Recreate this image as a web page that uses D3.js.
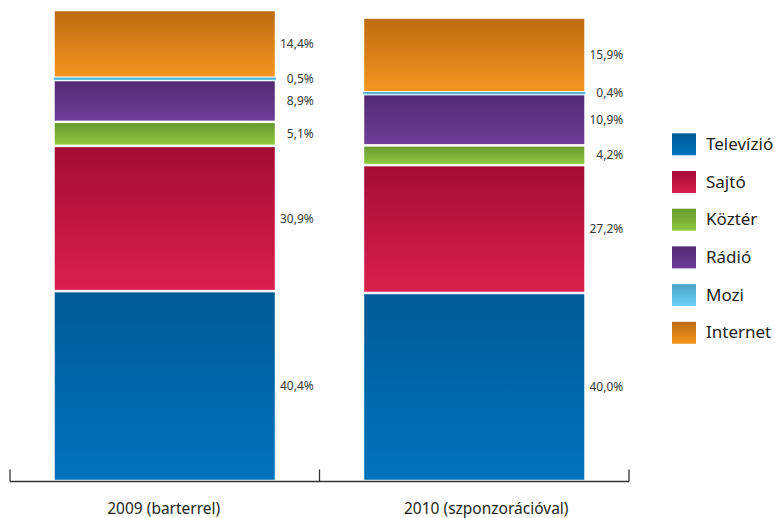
<!DOCTYPE html>
<html><head><meta charset="utf-8">
<script src="https://cdn.jsdelivr.net/npm/d3@7"></script>
<style>
html,body{margin:0;padding:0;background:#fff;}
svg{display:block;font-family:"Noto Sans","Open Sans",sans-serif;}
</style></head>
<body><svg id="chart" width="775" height="518"></svg>
<script>
const categories = ["2009 (barterrel)", "2010 (szponzorációval)"];
const seriesNames = ["Televízió", "Sajtó", "Köztér", "Rádió", "Mozi", "Internet"];
const televizio = [40.4, 40.0];
const sajto = [30.9, 27.2];
const kozter = [5.1, 4.2];
const radio = [8.9, 10.9];
const mozi = [0.5, 0.4];
const internet = [14.4, 15.9];
const colorsTop = ["#005a96", "#a30c35", "#669a2d", "#522a73", "#4aa2c7", "#bd6c12"];
const colorsBottom = ["#0073bd", "#da1f4d", "#8ec73f", "#6c3e98", "#6dd0f7", "#f5951f"];

const seriesValues = [televizio, sajto, kozter, radio, mozi, internet];
const rows = categories.map((c, i) => {
  const r = {category: c};
  seriesNames.forEach((s, j) => r[s] = seriesValues[j][i]);
  return r;
});
const stack = d3.stack().keys(seriesNames)(rows);
const totals = rows.map(r => d3.sum(seriesNames, s => r[s]));

const svg = d3.select("#chart");
const defs = svg.append("defs");
seriesNames.forEach((s, j) => {
  const g = defs.append("linearGradient").attr("id", "grad" + j)
    .attr("x1", 0).attr("y1", 0).attr("x2", 0).attr("y2", 1);
  g.append("stop").attr("offset", "0%").attr("stop-color", colorsTop[j]);
  g.append("stop").attr("offset", "100%").attr("stop-color", colorsBottom[j]);
});

const x = d3.scaleBand().domain(categories).range([10, 629]).paddingInner(0).paddingOuter(0);
const y = d3.scaleLinear().domain([0, d3.max(totals)]).range([481, 10]);
const barW = x.bandwidth() * 0.711;
const barX = c => x(c) + (x.bandwidth() - barW) / 2;

const fmtLocale = d3.formatLocale({decimal: ",", thousands: " ", grouping: [3], currency: ["", " Ft"]});
const fmt = fmtLocale.format(".1f");

stack.forEach((layer, j) => {
  const g = svg.append("g");
  layer.forEach((d, i) => {
    const c = categories[i];
    const top = y(d[1]), bot = y(d[0]);
    const h = bot - top;
    const hh = Math.max(h - 2.5, 2.5);
    const cy = (top + bot) / 2;
    const extra = hh > h ? 1 : 0;
    g.append("rect")
      .attr("x", barX(c) - extra).attr("width", barW + 2 * extra)
      .attr("y", cy - hh / 2).attr("height", hh)
      .attr("fill", `url(#grad${j})`);
    g.append("text")
      .attr("x", barX(c) + barW + 39).attr("y", cy + 1)
      .attr("text-anchor", "end").attr("dominant-baseline", "middle")
      .attr("font-size", 12).attr("fill", "#3a3a3a")
      .text(fmt(d[1] - d[0]) + "%");
  });
});

// axis
const axisY = 481.5;
const ax = svg.append("g").attr("stroke", "#333").attr("stroke-width", 1.3);
ax.append("line").attr("x1", x.range()[0]).attr("x2", x.range()[1]).attr("y1", axisY).attr("y2", axisY);
const tickXs = categories.map(c => x(c)).concat([x.range()[1]]);
tickXs.forEach(tx => ax.append("line").attr("x1", tx).attr("x2", tx).attr("y1", axisY - 12).attr("y2", axisY));
categories.forEach((c, i) => {
  svg.append("text").attr("x", x(c) + x.bandwidth() / 2 + (i === 1 ? 12 : -1)).attr("y", 510)
    .attr("text-anchor", "middle").attr("dominant-baseline", "middle")
    .attr("font-size", 15.5).attr("fill", "#231f20").text(c);
});

// legend
const leg = svg.append("g");
seriesNames.forEach((s, j) => {
  const ly = 133.3 + j * 37.7;
  leg.append("rect").attr("x", 672).attr("y", ly).attr("width", 24).attr("height", 22)
    .attr("fill", `url(#grad${j})`);
  leg.append("text").attr("x", 706).attr("y", ly + 12).attr("dominant-baseline", "middle")
    .attr("font-size", 17).attr("fill", "#231f20").text(s);
});
</script></body></html>
